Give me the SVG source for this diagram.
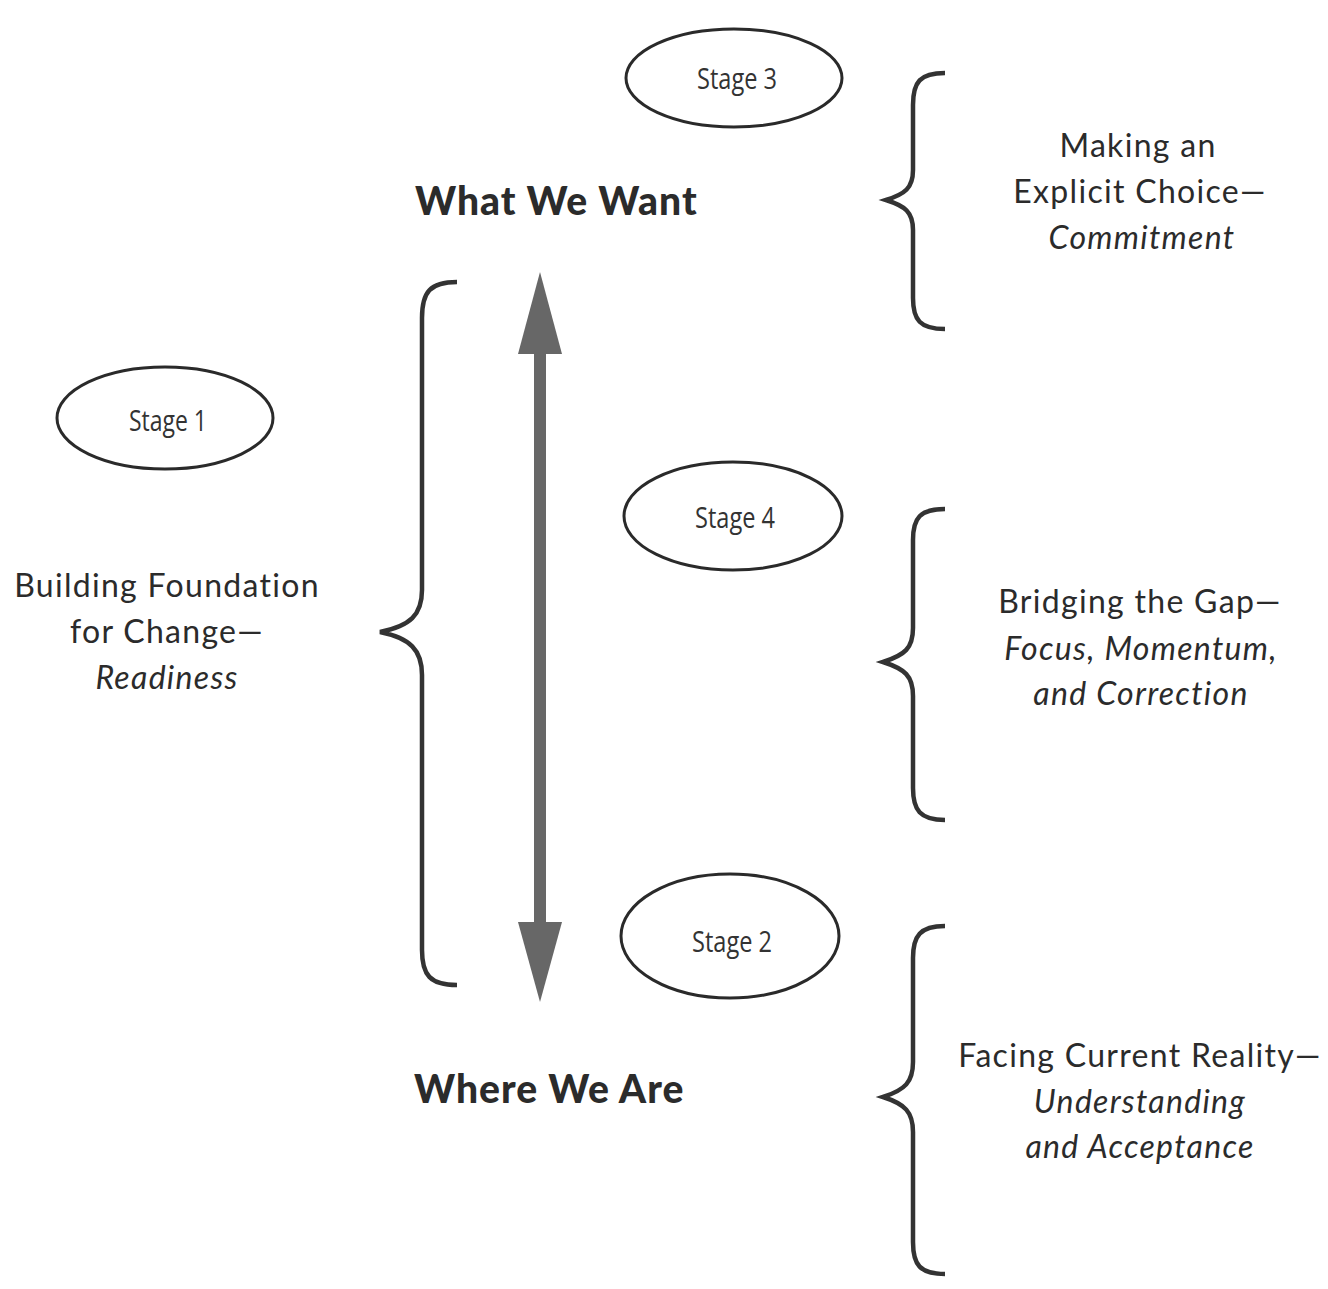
<svg xmlns="http://www.w3.org/2000/svg" width="1328" height="1289" viewBox="0 0 1328 1289">
<style>
.stage{fill:none;stroke:#2a2a2a;stroke-width:3}
.slabel{font-family:"Open Sans","Noto Sans",sans-serif;font-size:29px;fill:#333;text-anchor:middle}
.brace{fill:none;stroke:#333;stroke-width:4.5;stroke-linecap:butt}
.desc{font-family:Lato,"Noto Sans",sans-serif;font-size:32px;letter-spacing:1.3px;fill:#2b2b2b;text-anchor:middle}
.it{font-style:italic}
.head{font-family:Lato,"Noto Sans",sans-serif;font-weight:900;font-size:39px;letter-spacing:1px;fill:#2b2b2b}
</style>
<rect width="1328" height="1289" fill="#fff"/>
<g id="connectors">
<rect x="534" y="348" width="12" height="578" fill="#676767"/>
<polygon points="540,272 562,354 518,354" fill="#676767"/>
<polygon points="540,1002 562,922 518,922" fill="#676767"/>
</g>
<g id="stage3"><ellipse class="stage" cx="734" cy="78" rx="108" ry="49"/><text class="slabel" x="737" y="89" textLength="80" lengthAdjust="spacingAndGlyphs">Stage 3</text></g>
<g id="stage1"><ellipse class="stage" cx="165" cy="418" rx="108" ry="51"/><text class="slabel" x="168" y="431" textLength="78" lengthAdjust="spacingAndGlyphs">Stage 1</text></g>
<g id="stage4"><ellipse class="stage" cx="733" cy="516" rx="109" ry="54"/><text class="slabel" x="735" y="528" textLength="80" lengthAdjust="spacingAndGlyphs">Stage 4</text></g>
<g id="stage2"><ellipse class="stage" cx="730" cy="936" rx="109" ry="62"/><text class="slabel" x="732" y="952" textLength="80" lengthAdjust="spacingAndGlyphs">Stage 2</text></g>
<g id="braces">
<path class="brace" d="M457,282 C430,282 422,292 422,318 L422,590 C422,615 410,626 380,632 C410,638 422,650 422,675 L422,950 C422,975 430,985 457,985"/>
<path class="brace" d="M945,73 C920,73 913,82 913,105 L913,170 C913,188 905,194 886,200 C905,206 913,212 913,230 L913,298 C913,320 920,329 945,329"/>
<path class="brace" d="M945,509 C920,509 913,518 913,540 L913,628 C913,648 905,655 883,662 C905,669 913,676 913,696 L913,788 C913,810 920,820 945,820"/>
<path class="brace" d="M945,926 C920,926 913,936 913,958 L913,1062 C913,1082 905,1090 883,1097 C905,1104 913,1112 913,1132 L913,1242 C913,1265 920,1274 945,1274"/>
</g>
<g id="what-we-want"><text class="head" x="415" y="215">What We Want</text></g>
<g id="where-we-are"><text class="head" x="414" y="1103">Where We Are</text></g>
<g id="desc-stage3">
<text class="desc" x="1138" y="157">Making an</text>
<text class="desc" x="1140" y="203">Explicit Choice—</text>
<text class="desc it" x="1142" y="249">Commitment</text>
</g>
<g id="desc-stage1">
<text class="desc" x="167" y="597">Building Foundation</text>
<text class="desc" x="167" y="643">for Change—</text>
<text class="desc it" x="167" y="689">Readiness</text>
</g>
<g id="desc-stage4">
<text class="desc" x="1140" y="613">Bridging the Gap—</text>
<text class="desc it" x="1141" y="660">Focus, Momentum,</text>
<text class="desc it" x="1141" y="705">and Correction</text>
</g>
<g id="desc-stage2">
<text class="desc" x="1140" y="1067">Facing Current Reality—</text>
<text class="desc it" x="1140" y="1113">Understanding</text>
<text class="desc it" x="1140" y="1158">and Acceptance</text>
</g>
</svg>
